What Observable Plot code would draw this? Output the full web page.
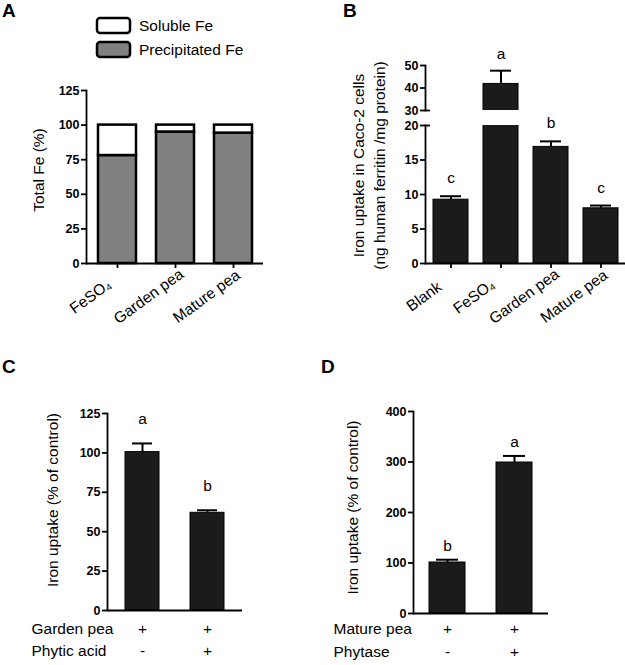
<!DOCTYPE html>
<html><head><meta charset="utf-8">
<script src="https://cdn.jsdelivr.net/npm/d3@7"></script>
<script src="https://cdn.jsdelivr.net/npm/@observablehq/plot@0.6"></script>
<style>
body{margin:0;background:#fff;}
#root{position:relative;width:625px;height:665px;overflow:hidden;font-family:"Liberation Sans",Arial,Helvetica,sans-serif;color:#000;}
.panel{position:absolute;}
.panel svg{background:transparent !important;overflow:visible;}
.plab{position:absolute;font-weight:bold;font-size:19px;line-height:20px;}
</style>
</head><body>
<div id="root"></div>
<script>
// ---------- data ----------
// Panel A
const aCats = ["FeSO₄", "Garden pea", "Mature pea"];
const aPrecipitated = [78, 95, 94.2];
const aSoluble = [22, 5, 5.8];
const aSeries = ["Precipitated Fe", "Soluble Fe"];
const aLegendOrder = ["Soluble Fe", "Precipitated Fe"];
const aTicks = [0, 25, 50, 75, 100, 125];
// Panel B
const bCats = ["Blank", "FeSO₄", "Garden pea", "Mature pea"];
const bMeans = [9.25, 41.8, 16.9, 8.0];
const bErrTop = [9.75, 47.7, 17.7, 8.4];
const bLetters = ["c", "a", "b", "c"];
const bTicksLow = [0, 5, 10, 15, 20];
const bTicksHigh = [30, 40, 50];
const bYLabel = "Iron uptake in Caco-2 cells\n(ng human ferritin /mg protein)";
// Panel C
const cCats = ["Garden pea", "Garden pea + Phytic acid"];
const cMeans = [100.5, 62];
const cErrTop = [106, 63.6];
const cLetters = ["a", "b"];
const cTicks = [0, 25, 50, 75, 100, 125];
const cRowLabels = ["Garden pea", "Phytic acid"];
const cRowSigns = [["+", "+"], ["-", "+"]];
// Panel D
const dCats = ["Mature pea", "Mature pea + Phytase"];
const dMeans = [101, 299];
const dErrTop = [106.5, 312];
const dLetters = ["b", "a"];
const dTicks = [0, 100, 200, 300, 400];
const dRowLabels = ["Mature pea", "Phytase"];
const dRowSigns = [["+", "+"], ["-", "+"]];
const uptakeLabel = "Iron uptake (% of control)";

// ---------- helpers ----------
const FONT = '"Liberation Sans", Arial, Helvetica, sans-serif';
const root = document.getElementById("root");
const baseStyle = {fontFamily: FONT, fontSize: "12px", background: "transparent", overflow: "visible", color: "black"};
function place(el, left, top) {
  const d = document.createElement("div");
  d.className = "panel";
  d.style.left = left + "px"; d.style.top = top + "px";
  d.append(el); root.append(d);
}
function panelLetter(t, left, top) {
  const d = document.createElement("div");
  d.className = "plab"; d.textContent = t;
  d.style.left = left + "px"; d.style.top = top + "px";
  root.append(d);
}
function yAxis(ticks) {
  return [
    Plot.axisY(ticks, {tickSize: 5, strokeWidth: 1.8, label: null, tickFormat: () => ""}),
    Plot.text(ticks, {y: d => d, text: d => String(d), frameAnchor: "left", dx: -7, textAnchor: "end", fontWeight: "bold", fontSize: 12.5})
  ];
}
function xTicks() {
  return Plot.axisX({tickSize: 5, strokeWidth: 1.8, tickFormat: () => "", label: null});
}
function xLabels(cats) {
  return Plot.text(cats, {x: d => d, text: d => d, frameAnchor: "bottom", rotate: -36, dx: -24, dy: 37, textAnchor: "middle", fontSize: 15.5});
}
function rowsOf(cats, means, errs, letters) {
  return cats.map((c, i) => ({cat: c, v: means[i], e: errs[i], letter: letters[i]}));
}
function barMarks(rows, clip) {
  return [
    Plot.barY(rows, {x: "cat", y: "v", fill: "#1b1b1b", stroke: "black", strokeWidth: 1, clip}),
    Plot.ruleX(rows, {x: "cat", y1: "v", y2: "e", strokeWidth: 2, clip}),
    Plot.tickY(rows, {x: "cat", y: "e", strokeWidth: 2, insetLeft: 7, insetRight: 7, clip})
  ];
}

// ---------- Panel A ----------
const aData = [];
aCats.forEach((c, i) => {
  aData.push({cat: c, series: "Precipitated Fe", value: aPrecipitated[i]});
  aData.push({cat: c, series: "Soluble Fe", value: aSoluble[i]});
});
const colorA = {domain: aSeries, range: ["#808080", "#ffffff"]};
place(Plot.plot({
  width: 310, height: 340,
  marginLeft: 86, marginRight: 47, marginTop: 90, marginBottom: 77,
  style: baseStyle,
  x: {domain: aCats, paddingInner: 0.35, paddingOuter: 0.2, label: null},
  y: {domain: [0, 125], label: null},
  color: colorA,
  marks: [
    Plot.barY(aData, Plot.stackY({x: "cat", y: "value", fill: "series", order: aSeries, stroke: "black", strokeWidth: 2.5})),
    Plot.ruleY([0], {strokeWidth: 1.8}),
    Plot.frame({anchor: "left", strokeWidth: 1.8}),
    ...yAxis(aTicks),
    xTicks(),
    xLabels(aCats),
    Plot.text(["Total Fe (%)"], {frameAnchor: "left", rotate: -90, dx: -47, dy: -7, textAnchor: "middle", fontSize: 15.5})
  ]
}), 0, 0);

// legend for A
place(Plot.plot({
  width: 170, height: 55, margin: 0,
  style: baseStyle,
  x: {domain: ["swatch"], range: [7, 40], padding: 0, axis: null},
  y: {domain: aLegendOrder, range: [8, 47], paddingInner: 0.375, paddingOuter: 0, axis: null},
  color: colorA,
  marks: [
    Plot.cell(aLegendOrder, {x: () => "swatch", y: d => d, fill: d => d, stroke: "black", strokeWidth: 2.5, rx: 3}),
    Plot.text(aLegendOrder, {x: () => "swatch", y: d => d, text: d => d, dx: 25, textAnchor: "start", fontSize: 15.5})
  ]
}), 90, 10);

// ---------- Panel B ----------
const bRows = rowsOf(bCats, bMeans, bErrTop, bLetters);
const bX = {domain: bCats, paddingInner: 0.3, paddingOuter: 0.14, label: null};
// lower segment 0-20
place(Plot.plot({
  width: 315, height: 340,
  marginLeft: 115, marginRight: 0, marginTop: 125, marginBottom: 77,
  style: baseStyle,
  x: bX,
  y: {domain: [0, 20], label: null},
  marks: [
    ...barMarks(bRows, true),
    Plot.text(bRows.filter(d => d.e <= 20), {x: "cat", y: "e", text: "letter", dy: -18, fontSize: 15.5}),
    Plot.ruleY([0], {strokeWidth: 1.8}),
    Plot.frame({anchor: "left", strokeWidth: 1.8}),
    ...yAxis(bTicksLow),
    Plot.axisY([20], {tickSize: -5, strokeWidth: 1.8, tickFormat: () => "", label: null}),
    xTicks(),
    xLabels(bCats),
    Plot.text([bYLabel], {frameAnchor: "left", rotate: -90, dx: -57.5, dy: -29, textAnchor: "middle", fontSize: 15.5, lineHeight: 1.37})
  ]
}), 310, 0);
// upper segment 30-50
place(Plot.plot({
  width: 315, height: 340,
  marginLeft: 115, marginRight: 0, marginTop: 65, marginBottom: 230,
  style: baseStyle,
  x: {...bX, axis: null},
  y: {domain: [30, 50], label: null},
  marks: [
    ...barMarks(bRows, true),
    Plot.text(bRows.filter(d => d.e > 20), {x: "cat", y: "e", text: "letter", dy: -17, fontSize: 15.5}),
    Plot.frame({anchor: "left", strokeWidth: 1.8}),
    ...yAxis(bTicksHigh),
    Plot.axisY([30], {tickSize: -5, strokeWidth: 1.8, tickFormat: () => "", label: null})
  ]
}), 310, 0);

// ---------- Panels C and D ----------
function uptakePanel({cats, means, errs, letters, ticks, yMax, rowLabels, rowSigns, width, height, mL, mR, mT, mB, pIn, pOut, letterDy, labelDx, labelDy, rowDx, rowDys}) {
  const rows = rowsOf(cats, means, errs, letters);
  const rowMarks = [];
  rowLabels.forEach((lab, r) => {
    rowMarks.push(Plot.text([lab], {frameAnchor: "bottom-left", dx: rowDx, dy: rowDys[r], textAnchor: "start", fontSize: 15.5}));
    rowMarks.push(Plot.text(cats, {x: d => d, frameAnchor: "bottom", dy: rowDys[r], text: (d, i) => rowSigns[r][i], fontSize: 15.5}));
  });
  return Plot.plot({
    width, height, marginLeft: mL, marginRight: mR, marginTop: mT, marginBottom: mB,
    style: baseStyle,
    x: {domain: cats, paddingInner: pIn, paddingOuter: pOut, axis: null},
    y: {domain: [0, yMax], label: null},
    marks: [
      ...barMarks(rows, false),
      Plot.text(rows, {x: "cat", y: "e", text: "letter", dy: letterDy, fontSize: 15.5}),
      Plot.ruleY([0], {strokeWidth: 1.8}),
      Plot.frame({anchor: "left", strokeWidth: 1.8}),
      ...yAxis(ticks),
      Plot.text([uptakeLabel], {frameAnchor: "left", rotate: -90, dx: labelDx, dy: labelDy, textAnchor: "middle", fontSize: 15.5}),
      ...rowMarks
    ]
  });
}
place(uptakePanel({
  cats: cCats, means: cMeans, errs: cErrTop, letters: cLetters, ticks: cTicks, yMax: 125,
  rowLabels: cRowLabels, rowSigns: cRowSigns,
  width: 310, height: 325, mL: 107, mR: 68, mT: 73, mB: 55, pIn: 0.47, pOut: 0.26,
  letterDy: -24, labelDx: -54, labelDy: -12, rowDx: -76, rowDys: [23, 45]
}), 0, 340);
place(uptakePanel({
  cats: dCats, means: dMeans, errs: dErrTop, letters: dLetters, ticks: dTicks, yMax: 400,
  rowLabels: dRowLabels, rowSigns: dRowSigns,
  width: 315, height: 325, mL: 103, mR: 77, mT: 71, mB: 52, pIn: 0.47, pOut: 0.23,
  letterDy: -14, labelDx: -60, labelDy: -5, rowDx: -80, rowDys: [20, 43]
}), 310, 340);

panelLetter("A", 2, 1);
panelLetter("B", 343, 1);
panelLetter("C", 2, 357);
panelLetter("D", 321, 357);
</script>
</body></html>
